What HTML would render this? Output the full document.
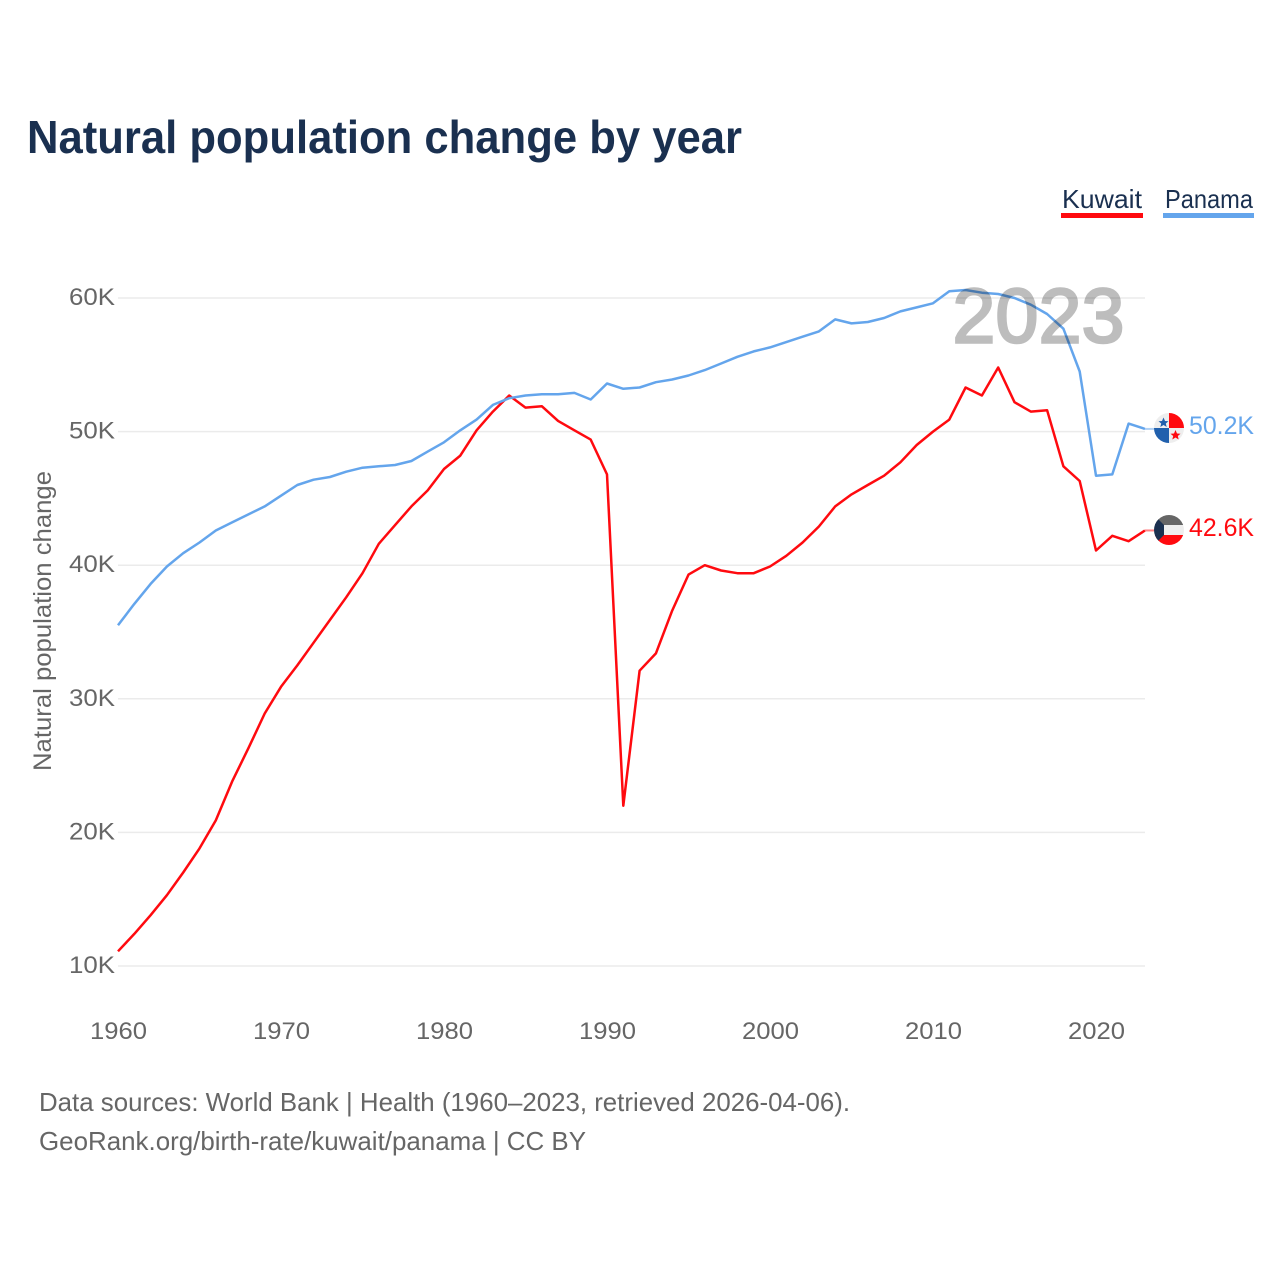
<!DOCTYPE html>
<html lang="en">
<head>
<meta charset="utf-8">
<title>Natural population change by year</title>
<style>
  html, body { margin: 0; padding: 0; background: #fff; }
  svg { display: block; font-family: "Liberation Sans", sans-serif; }
  .tick { font-size: 24px; fill: #666; }
</style>
</head>
<body>
<svg id="chart" xmlns="http://www.w3.org/2000/svg" width="1280" height="1280" viewBox="0 0 1280 1280">
  <defs>
    <clipPath id="flag-clip-panama"><circle cx="1169" cy="428" r="15"/></clipPath>
    <clipPath id="flag-clip-kuwait"><circle cx="1169" cy="530" r="15"/></clipPath>
  </defs>
  <rect width="1280" height="1280" fill="#fff"/>

  <text x="27" y="153" font-size="46" font-weight="700" fill="#1a3050" textLength="715" lengthAdjust="spacingAndGlyphs">Natural population change by year</text>

  <g>
    <g>
      <text x="1062" y="208" font-size="26" fill="#1a3050" textLength="80" lengthAdjust="spacingAndGlyphs">Kuwait</text>
      <rect x="1061" y="213" width="82" height="5" fill="#ff0a0f"/>
    </g>
    <g>
      <text x="1165" y="208" font-size="26" fill="#1a3050" textLength="88" lengthAdjust="spacingAndGlyphs">Panama</text>
      <rect x="1163" y="213" width="91" height="5" fill="#64a5ec"/>
    </g>
  </g>

  <g id="grid"></g>
  <g id="y-ticks"></g>
  <g id="x-ticks"></g>

  <text transform="translate(51 771) rotate(-90)" font-size="25" fill="#666" textLength="300" lengthAdjust="spacingAndGlyphs">Natural population change</text>

  <g id="series"></g>

  <text id="year-watermark" x="952.5" y="342.5" font-size="77" font-weight="400" fill="#bdbdbd" stroke="#bdbdbd" stroke-width="2.5" textLength="172" lengthAdjust="spacing" style="mix-blend-mode:multiply">2023</text>

  <g clip-path="url(#flag-clip-panama)">
    <rect x="1154" y="413" width="30" height="30" fill="#eeeeee"/>
    <rect x="1169" y="413" width="15" height="15" fill="#ff0a0f"/>
    <rect x="1154" y="428" width="15" height="15" fill="#2160ad"/>
    <polygon points="1163.5,417.5 1165,421 1168.5,421.3 1165.8,423.5 1166.7,427 1163.5,425 1160.3,427 1161.2,423.5 1158.5,421.3 1162,421" fill="#2160ad"/>
    <polygon points="1175.5,430 1177,433.5 1180.5,433.8 1177.8,436 1178.7,439.5 1175.5,437.5 1172.3,439.5 1173.2,436 1170.5,433.8 1174,433.5" fill="#ff0a0f"/>
  </g>
  <g clip-path="url(#flag-clip-kuwait)">
    <rect x="1154" y="515" width="30" height="10" fill="#666666"/>
    <rect x="1154" y="525" width="30" height="10" fill="#eeeeee"/>
    <rect x="1154" y="535" width="30" height="10" fill="#ff0a0f"/>
    <polygon points="1154,515 1164,525 1164,535 1154,545" fill="#1a3050"/>
  </g>

  <text id="label-panama" x="1189" y="434" font-size="25" fill="#64a5ec" textLength="65" lengthAdjust="spacingAndGlyphs"></text>
  <text id="label-kuwait" x="1189" y="536" font-size="25" fill="#ff0a0f" textLength="65" lengthAdjust="spacingAndGlyphs"></text>

  <g>
    <text x="39" y="1111" font-size="26" fill="#666" textLength="811" lengthAdjust="spacingAndGlyphs">Data sources: World Bank | Health (1960–2023, retrieved 2026-04-06).</text>
    <text x="39" y="1150" font-size="26" fill="#666" textLength="547" lengthAdjust="spacingAndGlyphs">GeoRank.org/birth-rate/kuwait/panama | CC BY</text>
  </g>
</svg>
<script>
const firstYear = 1960;
const yTickValues = [10, 20, 30, 40, 50, 60];
const xTickYears = [1960, 1970, 1980, 1990, 2000, 2010, 2020];
const kuwaitValues = [
  11.1, 12.4, 13.8, 15.3, 17.0, 18.8, 20.9, 23.8, 26.3, 28.9,
  30.9, 32.5, 34.2, 35.9, 37.6, 39.4, 41.6, 43.0, 44.4, 45.6,
  47.2, 48.2, 50.1, 51.5, 52.7, 51.8, 51.9, 50.8, 50.1, 49.4,
  46.8, 22.0, 32.1, 33.4, 36.6, 39.3, 40.0, 39.6, 39.4, 39.4,
  39.9, 40.7, 41.7, 42.9, 44.4, 45.3, 46.0, 46.7, 47.7, 49.0,
  50.0, 50.9, 53.3, 52.7, 54.8, 52.2, 51.5, 51.6, 47.4, 46.3,
  41.1, 42.2, 41.8, 42.6
];
const panamaValues = [
  35.5, 37.1, 38.6, 39.9, 40.9, 41.7, 42.6, 43.2, 43.8, 44.4,
  45.2, 46.0, 46.4, 46.6, 47.0, 47.3, 47.4, 47.5, 47.8, 48.5,
  49.2, 50.1, 50.9, 52.0, 52.5, 52.7, 52.8, 52.8, 52.9, 52.4,
  53.6, 53.2, 53.3, 53.7, 53.9, 54.2, 54.6, 55.1, 55.6, 56.0,
  56.3, 56.7, 57.1, 57.5, 58.4, 58.1, 58.2, 58.5, 59.0, 59.3,
  59.6, 60.5, 60.6, 60.4, 60.3, 60.0, 59.5, 58.8, 57.7, 54.5,
  46.7, 46.8, 50.6, 50.2
];

const NS = 'http://www.w3.org/2000/svg';
function xScale(year) { return 118 + (year - 1960) * 16.3; }
function yScale(v) { return 966 - (v - 10) * 13.36; }
function make(tag, attrs, parent) {
  const el = document.createElementNS(NS, tag);
  for (const k in attrs) el.setAttribute(k, attrs[k]);
  parent.appendChild(el);
  return el;
}

const grid = document.getElementById('grid');
const yTicks = document.getElementById('y-ticks');
const xTicks = document.getElementById('x-ticks');
const seriesGroup = document.getElementById('series');

yTickValues.forEach(function (v) {
  const line = make('line', { x1: 118, x2: 1145, y1: yScale(v), y2: yScale(v), stroke: '#ebebeb', 'stroke-width': 1.5 }, grid);
  
  
  const label = make('text', { class: 'tick', x: 115, y: yScale(v) + 7, 'text-anchor': 'end', textLength: 46, lengthAdjust: 'spacingAndGlyphs' }, yTicks);
  label.textContent = v + 'K';
  
  
});

xTickYears.forEach(function (year) {
  const label = make('text', { class: 'tick', x: xScale(year) + 0.5, y: 1039, 'text-anchor': 'middle', textLength: 57, lengthAdjust: 'spacingAndGlyphs' }, xTicks);
  label.textContent = String(year);
  
  
});

function linePoints(values) {
  return values.map(function (v, i) {
    return xScale(firstYear + i).toFixed(1) + ',' + yScale(v).toFixed(1);
  }).join(' ');
}

const kuwaitLine = make('polyline', { points: linePoints(kuwaitValues), fill: 'none', stroke: '#ff0a0f', 'stroke-width': 2.5, 'stroke-linejoin': 'round' }, seriesGroup);



const panamaLine = make('polyline', { points: linePoints(panamaValues), fill: 'none', stroke: '#64a5ec', 'stroke-width': 2.5, 'stroke-linejoin': 'round' }, seriesGroup);



const kuwaitLast = kuwaitValues[kuwaitValues.length - 1];
const panamaLast = panamaValues[panamaValues.length - 1];

const kuwaitConnector = make('line', { x1: xScale(2023), x2: 1154, y1: yScale(kuwaitLast), y2: yScale(kuwaitLast), stroke: '#ff0a0f', 'stroke-width': 2, opacity: 0.5 }, seriesGroup);



const panamaConnector = make('line', { x1: xScale(2023), x2: 1154, y1: yScale(panamaLast), y2: yScale(panamaLast), stroke: '#64a5ec', 'stroke-width': 2, opacity: 0.5 }, seriesGroup);



document.getElementById('label-kuwait').textContent = kuwaitLast.toFixed(1) + 'K';
document.getElementById('label-panama').textContent = panamaLast.toFixed(1) + 'K';
</script>
</body>
</html>
